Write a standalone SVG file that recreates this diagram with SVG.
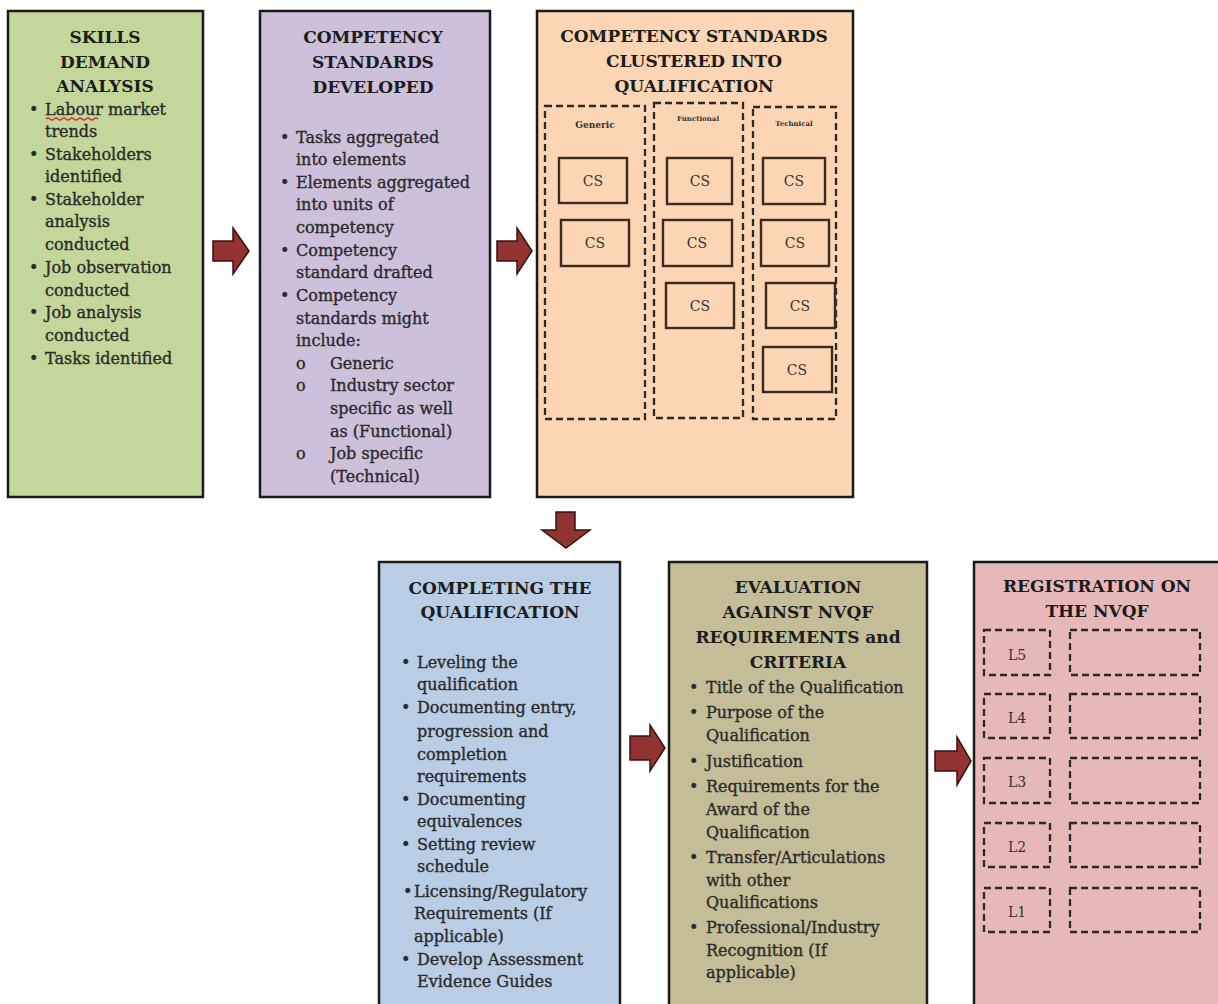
<svg xmlns="http://www.w3.org/2000/svg" width="1218" height="1004" viewBox="0 0 1218 1004">
<style>
.box{stroke:#1a1a1a;stroke-width:2.5}
.title{font-family:"DejaVu Serif","Liberation Serif",serif;font-weight:bold;font-size:17px;text-anchor:middle;fill:#1c1c1c}
.body{font-family:"DejaVu Serif","Liberation Serif",serif;font-size:16px;fill:#2a2a2a;stroke:#2a2a2a;stroke-width:0.35}
.dash{fill:none;stroke:#2a2a2a;stroke-width:2.3;stroke-dasharray:7 4}
.cs{fill:none;stroke:#3a2a22;stroke-width:2.4}
.csl{font-family:"DejaVu Serif","Liberation Serif",serif;font-size:14px;text-anchor:middle;fill:#333}
.small{font-family:"DejaVu Serif","Liberation Serif",serif;font-weight:bold;text-anchor:middle;fill:#333}
.arrow{fill:#923331;stroke:#3b1210;stroke-width:1.5}
</style>
<rect width="1218" height="1004" fill="#ffffff"/>

<g id="skills-demand-analysis">
<rect class="box" x="8" y="11" width="195" height="486" fill="#c4d79b"/>
<text class="title" x="105" y="43">SKILLS</text>
<text class="title" x="105" y="68">DEMAND</text>
<text class="title" x="105" y="92">ANALYSIS</text>
<g class="body">
<text x="29" y="115">•</text><text x="45" y="115">Labour market</text>
<text x="45" y="137">trends</text>
<text x="29" y="160">•</text><text x="45" y="160">Stakeholders</text>
<text x="45" y="182">identified</text>
<text x="29" y="205">•</text><text x="45" y="205">Stakeholder</text>
<text x="45" y="227">analysis</text>
<text x="45" y="250">conducted</text>
<text x="29" y="273">•</text><text x="45" y="273">Job observation</text>
<text x="45" y="296">conducted</text>
<text x="29" y="318">•</text><text x="45" y="318">Job analysis</text>
<text x="45" y="341">conducted</text>
<text x="29" y="364">•</text><text x="45" y="364">Tasks identified</text>
</g>
<path d="M46,119 q2,-2 4,0 t4,0 t4,0 t4,0 t4,0 t4,0 t4,0 t4,0 t4,0 t4,0 t4,0 t4,0 t4,0" fill="none" stroke="#d03030" stroke-width="1.3"/>
</g>

<g id="competency-standards-developed">
<rect class="box" x="260" y="11" width="230" height="486" fill="#ccc0da"/>
<text class="title" x="373" y="43">COMPETENCY</text>
<text class="title" x="373" y="68">STANDARDS</text>
<text class="title" x="373" y="93">DEVELOPED</text>
<g class="body">
<text x="280" y="143">•</text><text x="296" y="143">Tasks aggregated</text>
<text x="296" y="165">into elements</text>
<text x="280" y="188">•</text><text x="296" y="188">Elements aggregated</text>
<text x="296" y="210">into units of</text>
<text x="296" y="233">competency</text>
<text x="280" y="256">•</text><text x="296" y="256">Competency</text>
<text x="296" y="278">standard drafted</text>
<text x="280" y="301">•</text><text x="296" y="301">Competency</text>
<text x="296" y="324">standards might</text>
<text x="296" y="346">include:</text>
<text x="296" y="369">o</text><text x="330" y="369">Generic</text>
<text x="296" y="391">o</text><text x="330" y="391">Industry sector</text>
<text x="330" y="414">specific as well</text>
<text x="330" y="437">as (Functional)</text>
<text x="296" y="459">o</text><text x="330" y="459">Job specific</text>
<text x="330" y="482">(Technical)</text>
</g>
</g>

<g id="competency-standards-clustered">
<rect class="box" x="537" y="11" width="316" height="486" fill="#fcd5b4"/>
<text class="title" x="694" y="42">COMPETENCY STANDARDS</text>
<text class="title" x="694" y="67">CLUSTERED INTO</text>
<text class="title" x="694" y="92">QUALIFICATION</text>
<g id="generic-column">
<rect class="dash" x="545" y="106" width="100" height="313"/>
<text class="small" x="595" y="128" font-size="9">Generic</text>
<rect class="cs" x="559" y="158" width="68" height="45"/><text class="csl" x="593" y="186">CS</text>
<rect class="cs" x="561" y="220" width="68" height="46"/><text class="csl" x="595" y="248">CS</text>
</g>
<g id="functional-column">
<rect class="dash" x="654" y="103" width="89" height="315"/>
<text class="small" x="698" y="121" font-size="7">Functional</text>
<rect class="cs" x="667" y="158" width="65" height="46"/><text class="csl" x="700" y="186">CS</text>
<rect class="cs" x="663" y="220" width="69" height="46"/><text class="csl" x="697" y="248">CS</text>
<rect class="cs" x="666" y="283" width="68" height="45"/><text class="csl" x="700" y="311">CS</text>
</g>
<g id="technical-column">
<rect class="dash" x="753" y="107" width="83" height="312"/>
<text class="small" x="794" y="126" font-size="7">Technical</text>
<rect class="cs" x="763" y="158" width="62" height="46"/><text class="csl" x="794" y="186">CS</text>
<rect class="cs" x="761" y="220" width="68" height="46"/><text class="csl" x="795" y="248">CS</text>
<rect class="cs" x="766" y="283" width="69" height="45"/><text class="csl" x="800" y="311">CS</text>
<rect class="cs" x="763" y="347" width="69" height="45"/><text class="csl" x="797" y="375">CS</text>
</g>
</g>

<g id="completing-the-qualification">
<rect class="box" x="379" y="562" width="241" height="450" fill="#b9cde5"/>
<text class="title" x="500" y="594">COMPLETING THE</text>
<text class="title" x="500" y="618">QUALIFICATION</text>
<g class="body">
<text x="401" y="668">•</text><text x="417" y="668">Leveling the</text>
<text x="417" y="690">qualification</text>
<text x="401" y="713">•</text><text x="417" y="713">Documenting entry,</text>
<text x="417" y="737">progression and</text>
<text x="417" y="760">completion</text>
<text x="417" y="782">requirements</text>
<text x="401" y="805">•</text><text x="417" y="805">Documenting</text>
<text x="417" y="827">equivalences</text>
<text x="401" y="850">•</text><text x="417" y="850">Setting review</text>
<text x="417" y="872">schedule</text>
<text x="403" y="897">•</text><text x="414" y="897">Licensing/Regulatory</text>
<text x="414" y="919">Requirements (If</text>
<text x="414" y="942">applicable)</text>
<text x="401" y="965">•</text><text x="417" y="965">Develop Assessment</text>
<text x="417" y="987">Evidence Guides</text>
</g>
</g>

<g id="evaluation-against-nvqf">
<rect class="box" x="669" y="562" width="258" height="450" fill="#c4bd97"/>
<text class="title" x="798" y="593">EVALUATION</text>
<text class="title" x="798" y="618">AGAINST NVQF</text>
<text class="title" x="798" y="643">REQUIREMENTS and</text>
<text class="title" x="798" y="668">CRITERIA</text>
<g class="body">
<text x="689" y="693">•</text><text x="706" y="693">Title of the Qualification</text>
<text x="689" y="718">•</text><text x="706" y="718">Purpose of the</text>
<text x="706" y="741">Qualification</text>
<text x="689" y="767">•</text><text x="706" y="767">Justification</text>
<text x="689" y="792">•</text><text x="706" y="792">Requirements for the</text>
<text x="706" y="815">Award of the</text>
<text x="706" y="838">Qualification</text>
<text x="689" y="863">•</text><text x="706" y="863">Transfer/Articulations</text>
<text x="706" y="886">with other</text>
<text x="706" y="908">Qualifications</text>
<text x="689" y="933">•</text><text x="706" y="933">Professional/Industry</text>
<text x="706" y="956">Recognition (If</text>
<text x="706" y="978">applicable)</text>
</g>
</g>

<g id="registration-on-nvqf">
<rect class="box" x="974" y="562" width="260" height="450" fill="#e6b9b8"/>
<text class="title" x="1097" y="592">REGISTRATION ON</text>
<text class="title" x="1097" y="617">THE NVQF</text>
<rect class="dash" x="984" y="630" width="66" height="45"/><text class="csl" x="1017" y="660">L5</text>
<rect class="dash" x="1070" y="630" width="130" height="45"/>
<rect class="dash" x="984" y="694" width="66" height="44"/><text class="csl" x="1017" y="723">L4</text>
<rect class="dash" x="1070" y="694" width="130" height="44"/>
<rect class="dash" x="984" y="758" width="66" height="45"/><text class="csl" x="1017" y="787">L3</text>
<rect class="dash" x="1070" y="758" width="130" height="45"/>
<rect class="dash" x="984" y="823" width="66" height="44"/><text class="csl" x="1017" y="852">L2</text>
<rect class="dash" x="1070" y="823" width="130" height="44"/>
<rect class="dash" x="984" y="888" width="66" height="44"/><text class="csl" x="1017" y="917">L1</text>
<rect class="dash" x="1070" y="888" width="130" height="44"/>
</g>

<g id="connectors">
<path class="arrow" d="M213,241 H233 V228 L249,251 L233,274 V261 H213 Z"/>
<path class="arrow" d="M497,241 H517 V228 L532,251 L517,274 V261 H497 Z"/>
<path class="arrow" d="M556,512 H575 V530 H590 L566,548 L542,530 H556 Z"/>
<path class="arrow" d="M630,736 H650 V725 L665,748 L650,771 V760 H630 Z"/>
<path class="arrow" d="M935,751 H957 V737 L971,761 L957,785 V771 H935 Z"/>
</g>
</svg>
